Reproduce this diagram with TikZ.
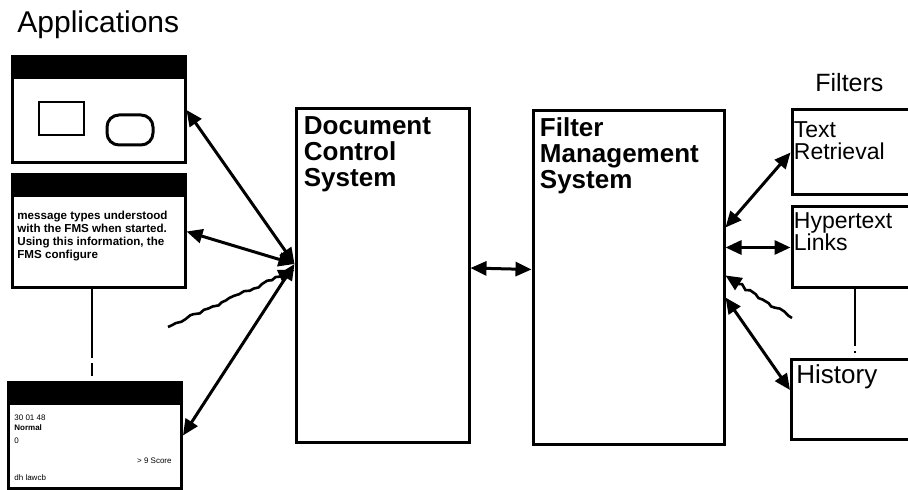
\documentclass[tikz,border=0pt]{standalone}
\usepackage{fontspec}
\setmainfont{Liberation Sans}
\usetikzlibrary{arrows.meta,decorations.pathmorphing}

\begin{document}
\begin{tikzpicture}[
    x=0.5pt, y=-0.5pt,
    box/.style={rectangle, draw, line width=1.5pt, inner sep=0pt},
    window/.style={box, minimum width=86.5pt},
    system/.style={box, minimum width=86.5pt, minimum height=167pt},
    filter/.style={box, minimum width=61pt},
    syslabel/.style={font=\fontsize{13}{13}\selectfont\bfseries, align=left, inner sep=4.5pt},
    fltlabel/.style={font=\fontsize{11.5}{11}\selectfont, align=left, inner sep=1.5pt},
    heading/.style={font=\fontsize{15}{15}\selectfont, anchor=base west, inner sep=0pt},
    tiny/.style={font=\fontsize{4}{4}\selectfont, anchor=west, inner sep=0pt},
    arrow/.style={<->, line width=1.5pt, >={Triangle[length=8pt,width=7pt]}},
    wavy/.style={->, line width=1.3pt, >={Triangle[length=8pt,width=7pt]},
        decorate, decoration={random steps, segment length=2.5pt, amplitude=0.8pt, pre length=2pt, post length=8pt}},
    link/.style={line width=1pt}
]
    \useasboundingbox (0,0) rectangle (908,490);
    \pgfmathsetseed{7}

    % Applications
    \node[heading] (apps) at (17,33) {Applications};

    \node[window, minimum height=53pt] (win1) at (98.5,110) {};
    \fill (win1.north west) rectangle ([yshift=-12pt]win1.north east);
    \node[box, line width=1pt, minimum width=22.5pt, minimum height=16.5pt] (shape1) at (61.5,118.5) {};
    \node[box, rounded corners=6pt, minimum width=23pt, minimum height=15pt] (shape2) at (130,130) {};

    \node[window, minimum height=56.5pt] (win2) at (98.5,231.5) {};
    \fill (win2.north west) rectangle ([yshift=-12pt]win2.north east);
    \node[font=\fontsize{5.8}{6.5}\selectfont\bfseries, align=left, inner sep=0pt, anchor=north west] (msg) at (17,211)
        {message types understood\\with the FMS when started.\\Using this information, the\\FMS configure};

    \node[window, minimum height=52.5pt] (win3) at (95,435.5) {};
    \fill (win3.north west) rectangle ([yshift=-12pt]win3.north east);
    \node[tiny] (d1) at (14,418) {30 01 48};
    \node[tiny, font=\fontsize{4}{4}\selectfont\bfseries] (d2) at (14,428) {Normal};
    \node[tiny] (d3) at (14,441) {0};
    \node[tiny, anchor=east] (d4) at (172,461) {> 9 Score};
    \node[tiny] (d5) at (14,478) {dh lawcb};

    \draw[link, dash pattern=on 34.5pt off 2.5pt on 6.5pt off 10pt] ([xshift=-3.25pt]win2.south) -- ([xshift=-1.5pt]win3.north);

    % Systems
    \node[system, label={[syslabel, anchor=north west]north west:Document\\Control\\System}] (dcs) at (382.5,276) {};
    \node[system, minimum width=95.5pt, label={[syslabel, inner sep=4pt, anchor=north west]north west:Filter\\Management\\System}] (fms) at (628.5,277.5) {};

    % Filters
    \node[heading, font=\fontsize{12.5}{13}\selectfont] (filters) at (815,92) {Filters};
    \node[filter, minimum height=42.5pt, label={[fltlabel, yshift=-5pt, anchor=north west]north west:Text\\Retrieval}] (tr) at (853,152.5) {};
    \node[filter, minimum height=40.5pt, label={[fltlabel, yshift=-2pt, anchor=north west]north west:Hypertext\\Links}] (ht) at (853,247.5) {};
    \node[filter, minimum height=40pt, label={[fltlabel, font=\fontsize{13}{13}\selectfont, inner sep=3pt, anchor=north west]north west:History}] (hist) at (852.5,400) {};

    \draw[link, dash pattern=on 28.5pt off 2.5pt on 1pt off 10pt] ([xshift=1pt]ht.south) -- ([xshift=1.25pt]hist.north);

    % free ends of the wavy lines
    \coordinate (wl) at (168,327);
    \coordinate (wr) at (792,318);

    % Applications <-> DCS
    \draw[arrow] (win1.east) -- ([yshift=6pt]dcs.west);
    \draw[arrow] (win2.east) -- ([yshift=6pt]dcs.west);
    \draw[arrow] (win3.east) -- ([yshift=6pt]dcs.west);
    \draw[wavy] (wl) -- ([yshift=3pt]dcs.west);

    % DCS <-> FMS
    \draw[arrow] ([yshift=4pt]dcs.east) -- ([yshift=4pt]fms.west);

    % FMS <-> Filters
    \draw[arrow] ([yshift=25pt]fms.east) -- (tr.west);
    \draw[arrow] ([yshift=15pt]fms.east) -- (ht.west);
    \draw[wavy] (wr) -- ([yshift=1pt]fms.east);
    \draw[arrow] ([yshift=-10pt]fms.east) -- ([yshift=5pt]hist.west);
\end{tikzpicture}
\end{document}
